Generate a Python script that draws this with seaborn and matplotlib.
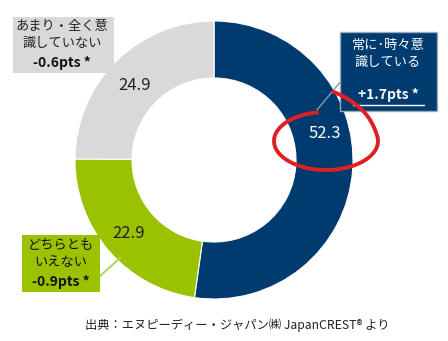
import numpy as np
import matplotlib
matplotlib.use("Agg")
import matplotlib.pyplot as plt
import seaborn as sns
from matplotlib.patches import Rectangle

# ---- data ----
categories = ["常に･時々意識している", "どちらともいえない", "あまり・全く意識していない"]
values = [52.3, 22.9, 24.9]
value_labels = ["52.3", "22.9", "24.9"]
box_titles = ["常に･時々意\n識している", "どちらとも\nいえない", "あまり・全く意\n識していない"]
box_changes = ["+1.7pts *", "-0.9pts *", "-0.6pts *"]
source_text = "出典：エヌピーディー・ジャパン㈱ JapanCREST® より"

sns.set_theme(style="white")
plt.rcParams['font.family'] = ['Noto Sans CJK JP', 'DejaVu Sans']

colors = sns.color_palette(["#003B6F", "#9BC200", "#D9D9D9"])

W, H = 448, 341
fig = plt.figure(figsize=(W / 100, H / 100), dpi=100)
ax = fig.add_axes([0, 0, 1, 1])

def Y(p):
    return H - p

cx, cy, R, r_in = 214, 160, 139, 82
ax.pie(values, colors=colors, startangle=90, counterclock=False,
       center=(cx, Y(cy)), radius=R, frame=True,
       wedgeprops=dict(width=R - r_in, edgecolor="white", linewidth=0.8))
ax.set_xlim(0, W)
ax.set_ylim(0, H)
ax.axis("off")
ax.set_aspect("equal")

# value labels
ax.text(325, Y(133), value_labels[0], color="white", fontsize=12, ha="center", va="center")
ax.text(129, Y(233), value_labels[1], color="#222222", fontsize=12, ha="center", va="center")
ax.text(135, Y(85), value_labels[2], color="#222222", fontsize=12, ha="center", va="center")

# leader lines
ax.plot([317, 342], [Y(110), Y(80)], color="#8A9BB0", lw=1.0, zorder=3)
ax.plot([100, 120], [Y(276), Y(258)], color="#B5D45A", lw=1.5, zorder=3)

# boxes
ax.add_patch(Rectangle((340, Y(111)), 97, 79, facecolor=colors[0], edgecolor="#9AAABB", lw=1.0, zorder=4))
ax.add_patch(Rectangle((13, Y(73)), 101, 56, facecolor=colors[2], edgecolor="none", zorder=4))
ax.add_patch(Rectangle((22, Y(292)), 78, 57, facecolor=colors[1], edgecolor="none", zorder=4))

# navy box text
ax.text(388, Y(54), box_titles[0], color="white", fontsize=9.5, ha="center", va="center",
        linespacing=1.35, zorder=5)
ax.text(388, Y(95), box_changes[0], color="white", fontsize=10, fontweight="bold",
        ha="center", va="center", zorder=5)
ax.plot([353, 424], [Y(105), Y(105)], color="white", lw=1.0, zorder=5)

# gray box text
ax.text(62, Y(35), box_titles[2], color="#222222", fontsize=9.5, ha="center", va="center",
        linespacing=1.35, zorder=5)
ax.text(62, Y(63), box_changes[2], color="#111111", fontsize=10, fontweight="bold",
        ha="center", va="center", zorder=5)

# green box text
ax.text(61, Y(254), box_titles[1], color="#111111", fontsize=9.5, ha="center", va="center",
        linespacing=1.35, zorder=5)
ax.text(61, Y(282), box_changes[1], color="#111111", fontsize=10, fontweight="bold",
        ha="center", va="center", zorder=5)

# red hand-drawn ellipse
ecx, ecy, ea, eb = 326, 141, 52, 29
phi = np.deg2rad(np.linspace(100, 445, 300))
deg = np.rad2deg(phi)
s = np.where(deg > 370, 1 + 0.7 * ((deg - 370) / 75) ** 2, 1.0)
ex = ecx + ea * s * np.cos(phi)
ey = ecy - eb * s * np.sin(phi)
ax.plot(ex, [Y(v) for v in ey], color="#E02020", lw=2.8, solid_capstyle="round", zorder=6)

# source
ax.text(85, Y(325), source_text, color="#222222", fontsize=8.8, ha="left", va="center")

fig.savefig("out.png", dpi=100)
